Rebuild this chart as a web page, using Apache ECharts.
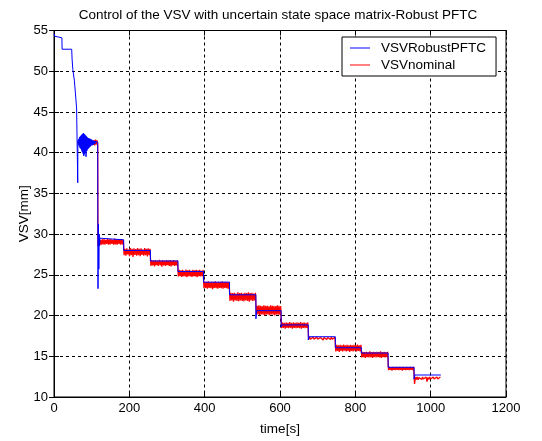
<!DOCTYPE html>
<html><head><meta charset="utf-8">
<script src="https://cdn.jsdelivr.net/npm/echarts@6/dist/echarts.min.js"></script>
<style>html,body{margin:0;padding:0;background:#fff}#c{width:542px;height:441px}</style>
</head><body><div id="c"></div>
<script>
const titleText = 'Control of the VSV with uncertain state space matrix-Robust PFTC';
const seriesNames = ['VSVRobustPFTC', 'VSVnominal'];
const xName = 'time[s]';
const yName = 'VSV[mm]';
const xTicks = [0, 200, 400, 600, 800, 1000, 1200];
const yTicks = [10, 15, 20, 25, 30, 35, 40, 45, 50, 55];

// Robust PFTC: initial transient (time, value)
const blueStartT = [0, 2, 3, 21, 21.5, 47, 48, 50, 53, 54, 58, 60, 62, 63, 63.5];
const blueStartV = [54.6, 54.3, 54.1, 54.1, 52.7, 52.7, 51.5, 50.2, 50.0, 48.9, 48.7, 45.5, 45.4, 36.3, 41.5];
// oscillation around 41 (one sample per second from t = 64)
const blueBlobStart = 64;
const blueBlobV = [41.5, 41.0, 41.7, 40.8, 41.9, 40.6, 42.0, 40.5, 42.1, 40.3, 42.2, 40.1, 42.3, 39.9, 42.4, 39.6,
  42.3, 39.8, 42.2, 40.0, 42.1, 39.5, 42.0, 40.2, 41.9, 40.4, 41.8, 40.5, 41.8, 40.6, 41.7, 40.7, 41.7, 40.8,
  41.6, 40.9, 41.6, 40.9, 41.5, 41.0, 41.5, 41.0, 41.4, 41.1, 41.4, 41.1, 41.4, 41.2, 41.3, 41.2, 41.3, 41.2];
// fall after the switch
const blueFallT = [116, 116.8, 118, 119, 120, 121, 122];
const blueFallV = [41.3, 23.3, 31.2, 25.7, 30.0, 28.6, 29.5];

// step changes of the reference
const stepStarts = [123, 185, 256, 329, 397, 466, 536, 603, 675, 747, 816, 887, 956];
const stepEnd = 1027;
const blueLevels = [29.3, 28.0, 26.7, 25.4, 24.1, 22.55, 20.6, 18.85, 17.4, 16.05, 15.4, 13.65, 12.7];
const blueSpikes = [null, null, null, null, null, null, 19.6, 18.6, 17.0, null, null, null, 12.2];

// nominal: early part and noisy samples per step
const redEarlyT = [104, 106, 108, 110, 112, 114, 116];
const redEarlyV = [41.0, 41.5, 40.9, 41.6, 41.0, 41.5, 41.1];
const redFirstStart = 115.5;
const redNoise = [
  [28.5, 29.2, 28.6, 29.3, 28.7, 29.35, 28.75, 29.4, 28.7, 29.3, 28.8, 29.45, 28.7, 29.35, 28.75, 29.4, 28.8, 29.3, 28.7, 29.45, 28.75, 29.35, 28.7, 29.4, 28.8, 29.35, 28.7, 29.4, 28.75, 29.3],
  [27.4, 28.2, 27.35, 28.25, 27.5, 28.1, 27.3, 28.3, 27.4, 28.2, 27.2, 28.25, 27.45, 28.15, 27.35, 28.3, 27.4, 28.2, 27.3, 28.25, 27.45, 28.1, 27.35, 28.3, 27.4, 28.2, 27.25, 28.25, 27.4, 28.2],
  [26.1, 26.8, 26.15, 26.75, 26.05, 26.8, 26.2, 26.7, 26.1, 26.85, 26.15, 26.75, 26.0, 26.8, 26.15, 26.7, 26.1, 26.8, 26.2, 26.75, 26.1, 26.8, 26.05, 26.75, 26.15, 26.8, 26.1, 26.7, 26.15, 26.8],
  [24.8, 25.6, 24.85, 25.55, 24.75, 25.6, 24.85, 25.5, 24.8, 25.65, 24.7, 25.55, 24.85, 25.6, 24.8, 25.5, 24.75, 25.6, 24.85, 25.55, 24.8, 25.6, 24.7, 25.55, 24.85, 25.6, 24.8, 25.5, 24.85, 25.6],
  [23.35, 24.15, 23.4, 24.1, 23.3, 24.2, 23.4, 24.1, 23.35, 24.15, 23.25, 24.1, 23.4, 24.2, 23.35, 24.1, 23.3, 24.15, 23.4, 24.1, 23.35, 24.2, 23.3, 24.1, 23.4, 24.15, 23.35, 24.1, 23.3, 24.15],
  [21.8, 22.8, 21.85, 22.75, 21.7, 22.8, 21.85, 22.7, 21.8, 22.85, 21.75, 22.75, 21.85, 22.8, 21.8, 22.7, 21.75, 22.8, 21.85, 22.75, 21.8, 22.85, 21.7, 22.75, 21.85, 22.8, 21.8, 22.7, 21.85, 22.8],
  [20.1, 21.2, 20.15, 21.25, 20.05, 21.2, 20.15, 21.15, 20.1, 21.25, 20.0, 21.2, 20.15, 21.2, 20.1, 21.15, 20.05, 21.25, 20.15, 21.2, 20.1, 21.2, 20.0, 21.15, 20.15, 21.25, 20.1, 21.2, 20.1, 21.15],
  [18.45, 19.15, 18.5, 19.1, 18.4, 19.15, 18.5, 19.1, 18.45, 19.2, 18.5, 19.1, 18.4, 19.15, 18.5, 19.1, 18.45, 19.15, 18.5, 19.1, 18.45, 19.2, 18.4, 19.1, 18.5, 19.15, 18.45, 19.1, 18.5, 19.15],
  [17.05, 17.35, 17.1, 17.3, 17.0, 17.35, 17.1, 17.3, 17.05, 17.35, 17.1, 17.3, 17.05, 17.3, 17.1, 17.35, 17.0, 17.3, 17.1, 17.35, 17.05, 17.3, 17.1, 17.3, 17.05, 17.35, 17.1, 17.3, 17.05, 17.3],
  [15.6, 16.4, 15.65, 16.35, 15.55, 16.4, 15.65, 16.35, 15.6, 16.45, 15.7, 16.35, 15.6, 16.4, 15.65, 16.35, 15.55, 16.4, 15.65, 16.35, 15.6, 16.4, 15.7, 16.35, 15.6, 16.45, 15.65, 16.35, 15.6, 16.4],
  [14.85, 15.55, 14.9, 15.5, 14.8, 15.55, 14.9, 15.5, 14.85, 15.6, 14.9, 15.5, 14.8, 15.55, 14.9, 15.5, 14.85, 15.55, 14.9, 15.5, 14.85, 15.6, 14.8, 15.5, 14.9, 15.55, 14.85, 15.5, 14.9, 15.55],
  [13.3, 13.7, 13.35, 13.65, 13.25, 13.7, 13.35, 13.65, 13.3, 13.7, 13.35, 13.65, 13.3, 13.7, 13.35, 13.65, 13.25, 13.7, 13.35, 13.65, 13.3, 13.7, 13.35, 13.65, 13.3, 13.7, 13.35, 13.65, 13.3, 13.7],
  [11.6, 12.45, 12.15, 12.45, 12.1, 12.4, 12.2, 12.45, 12.15, 12.45, 12.2, 12.4, 12.15, 12.45, 11.9, 12.4, 12.15, 12.45, 12.2, 12.4, 12.15, 12.45, 12.2, 12.4, 12.15, 12.45, 12.2, 12.4, 12.15, 12.45]
];

// ---- build series data ----
const blueData = blueStartT.map((t, i) => [t, blueStartV[i]]);
blueBlobV.forEach((v, i) => blueData.push([blueBlobStart + i, v]));
blueFallT.forEach((t, i) => blueData.push([t, blueFallV[i]]));
for (let k = 0; k < stepStarts.length; k++) {
  const s = stepStarts[k];
  const e = k + 1 < stepStarts.length ? stepStarts[k + 1] : stepEnd;
  if (k > 0) blueData.push([s, blueLevels[k - 1]]);
  if (blueSpikes[k] != null) {
    blueData.push([s, blueSpikes[k]]);
    blueData.push([s + 2, blueLevels[k]]);
  } else {
    blueData.push([s, blueLevels[k]]);
  }
  blueData.push([e, blueLevels[k]]);
}
const redData = redEarlyT.map((t, i) => [t, redEarlyV[i]]);
for (let k = 0; k < redNoise.length; k++) {
  const s = k === 0 ? redFirstStart : stepStarts[k];
  const e = k + 1 < stepStarts.length ? stepStarts[k + 1] : stepEnd;
  const vals = redNoise[k];
  const dt = (e - s) / vals.length;
  vals.forEach((v, i) => redData.push([s + i * dt + dt / 2, v]));
}

const FONT = "'Liberation Sans', Arial, Helvetica, sans-serif";
const dashed = { show: true, lineStyle: { color: '#000', type: [3, 3], width: 1 } };
const chart = echarts.init(document.getElementById('c'), null, { renderer: 'canvas' });
const baseAxis = (ticks) => ({
  type: 'value', min: ticks[0], max: ticks[ticks.length - 1], interval: ticks[1] - ticks[0],
  axisLine: { show: true, lineStyle: { color: '#000', width: 1 } },
  axisTick: { show: true, inside: true, length: 5, lineStyle: { color: '#000' } }
});
chart.setOption({
  animation: false,
  backgroundColor: '#fff',
  title: {
    text: titleText, left: 273, top: 3, textAlign: 'center',
    textStyle: { fontFamily: FONT, fontSize: 13.5, fontWeight: 'normal', color: '#000' }
  },
  legend: {
    data: seriesNames.map(n => ({ name: n, icon: 'rect' })),
    orient: 'vertical', left: 342, top: 37,
    backgroundColor: '#fff', borderColor: '#000', borderWidth: 1,
    padding: [4, 10, 4, 8], itemWidth: 20, itemHeight: 1, itemGap: 3,
    textStyle: { fontFamily: FONT, fontSize: 13.5, color: '#000', lineHeight: 14, padding: [0, 0, 0, 6] }
  },
  grid: { left: 54, right: 36, top: 30.5, bottom: 42, show: true, borderColor: '#000', borderWidth: 1, backgroundColor: 'transparent' },
  xAxis: [
    Object.assign(baseAxis(xTicks), {
      position: 'bottom', name: xName, nameLocation: 'middle', nameGap: 25, nameMoveOverlap: false,
      nameTextStyle: { fontFamily: FONT, fontSize: 13.5, color: '#000' },
      axisLabel: { color: '#000', fontFamily: FONT, fontSize: 13, margin: 5, formatter: v => String(v) },
      splitLine: dashed
    }),
    Object.assign(baseAxis(xTicks), { position: 'top', axisLabel: { show: false }, splitLine: { show: false } })
  ],
  yAxis: [
    Object.assign(baseAxis(yTicks), {
      position: 'left', name: yName, nameLocation: 'middle', nameGap: 23, nameMoveOverlap: false,
      nameTextStyle: { fontFamily: FONT, fontSize: 13.5, color: '#000' },
      axisLabel: { color: '#000', fontFamily: FONT, fontSize: 13, margin: 6, formatter: v => String(v) },
      splitLine: dashed
    }),
    Object.assign(baseAxis(yTicks), { position: 'right', axisLabel: { show: false }, splitLine: { show: false } })
  ],
  series: [
    { name: seriesNames[0], type: 'line', data: blueData, symbol: 'none', showSymbol: false, z: 4,
      lineStyle: { color: '#0000ff', width: 1 }, itemStyle: { color: '#0000ff' } },
    { name: seriesNames[1], type: 'line', data: redData, symbol: 'none', showSymbol: false, z: 3,
      lineStyle: { color: '#ff0000', width: 1.3 }, itemStyle: { color: '#ff0000' } }
  ]
});
</script>
</body></html>
